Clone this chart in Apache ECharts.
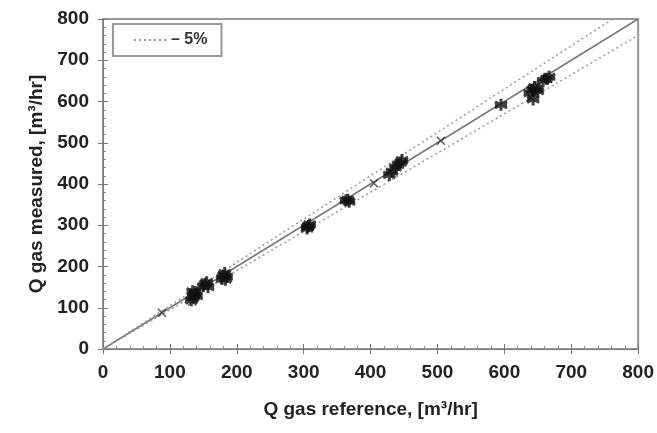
<!DOCTYPE html>
<html>
<head>
<meta charset="utf-8">
<script src="https://cdn.jsdelivr.net/npm/echarts@6/dist/echarts.min.js"></script>
<style>
html,body{margin:0;padding:0;background:#fff;}
#chart{width:657px;height:433px;}
</style>
</head>
<body>
<div id="chart"></div>
<script>
// Reference vs measured gas flow, m3/hr
const crossPoints = [
  [88, 88], [405, 402], [505, 505], [665, 655], [640, 610], [133, 115]
];
const starPoints = [
  [132, 118], [135, 125], [137, 132], [138, 138], [140, 128], [134, 140],
  [150, 152], [153, 158], [155, 162], [157, 150],
  [178, 170], [180, 178], [182, 184], [185, 175], [183, 168],
  [305, 292], [307, 298], [309, 302], [306, 296],
  [363, 360], [366, 362], [368, 357],
  [428, 422], [432, 430], [437, 440], [441, 446], [445, 452], [447, 458],
  [595, 592],
  [638, 620], [642, 628], [645, 635], [648, 630], [650, 625], [643, 605],
  [658, 650], [663, 655], [667, 660]
];
const axisMax = 800;
const tolerance = 0.05;
const tickLabels = [0, 100, 200, 300, 400, 500, 600, 700, 800];

const crossPath = 'path://M0,0L10,10M10,0L0,10';
const starPath = 'path://M5,0L5,10M0,2.5L10,7.5M10,2.5L0,7.5M0,5L10,5';

const band = f => [[0, 0], [axisMax, axisMax * f]];

const fontFamily = 'Liberation Sans, Arial, sans-serif';
const labelFont = { fontFamily, fontWeight: 'bold', fontSize: 19, color: '#222' };
const nameFont = { fontFamily, fontWeight: 'bold', fontSize: 19, color: '#222' };

function baseAxis(extra) {
  return Object.assign({
    type: 'value', min: 0, max: axisMax, interval: 100,
    splitLine: { show: false },
    axisLine: { show: true, lineStyle: { color: '#777', width: 1 } }
  }, extra);
}

const chart = echarts.init(document.getElementById('chart'));
chart.setOption({
  animation: false,
  backgroundColor: '#fff',
  grid: { left: 103, right: 15, top: 19, bottom: 84, show: true, borderColor: '#999', borderWidth: 2, backgroundColor: 'transparent' },
  legend: {
    left: 113, top: 24,
    padding: [8, 14, 8, 20],
    borderColor: '#999', borderWidth: 2, borderRadius: 0,
    itemWidth: 32, itemHeight: 12, itemGap: 0,
    itemStyle: { opacity: 0 },
    data: [{ name: '– 5%' }],
    textStyle: { fontFamily, fontWeight: 'bold', fontSize: 16, color: '#333', padding: [0, 4, 0, 0] }
  },
  xAxis: [
    baseAxis({
      name: 'Q gas reference, [m³/hr]', nameLocation: 'middle', nameGap: 51,
      nameTextStyle: nameFont,
      axisLabel: Object.assign({ margin: 14, formatter: v => tickLabels.includes(v) ? String(v) : '' }, labelFont),
      axisTick: { show: true, inside: true, length: 5, lineStyle: { color: '#777' } },
      minorTick: { show: true, splitNumber: 5, length: 3, lineStyle: { color: '#888' } }
    }),
    baseAxis({
      position: 'bottom', axisLabel: { show: false },
      axisTick: { show: true, inside: false, length: 5, lineStyle: { color: '#777' } }
    })
  ],
  yAxis: [
    baseAxis({
      name: 'Q gas measured, [m³/hr]', nameLocation: 'middle', nameGap: 57,
      nameTextStyle: nameFont,
      axisLabel: Object.assign({ margin: 14, formatter: v => tickLabels.includes(v) ? String(v) : '' }, labelFont),
      axisTick: { show: true, inside: true, length: 5, lineStyle: { color: '#777' } },
      minorTick: { show: true, splitNumber: 5, length: 3, lineStyle: { color: '#888' } }
    }),
    baseAxis({
      position: 'left', axisLabel: { show: false },
      axisTick: { show: true, inside: false, length: 5, lineStyle: { color: '#777' } }
    })
  ],
  series: [
    {
      name: 'line', type: 'line', data: band(1), symbol: 'none', clip: true,
      lineStyle: { color: '#777', width: 1.5 }, z: 2
    },
    {
      name: '– 5%', type: 'line', data: band(1 + tolerance), symbol: 'none', clip: true,
      lineStyle: { color: '#999', width: 1.5, type: [2, 3] }, itemStyle: { color: '#999' }, z: 2
    },
    {
      name: 'lower', type: 'line', data: band(1 - tolerance), symbol: 'none', clip: true,
      lineStyle: { color: '#999', width: 1.5, type: [2, 3] }, z: 2
    },
    {
      name: 'cross', type: 'scatter', data: crossPoints, symbol: crossPath, symbolSize: 8,
      itemStyle: { color: 'none', borderColor: '#333', borderWidth: 1.5 }, z: 3
    },
    {
      name: 'star', type: 'scatter', data: starPoints, symbol: starPath, symbolSize: 12,
      itemStyle: { color: 'none', borderColor: '#111', borderWidth: 3 }, z: 4
    }
  ]
});
</script>
</body>
</html>
